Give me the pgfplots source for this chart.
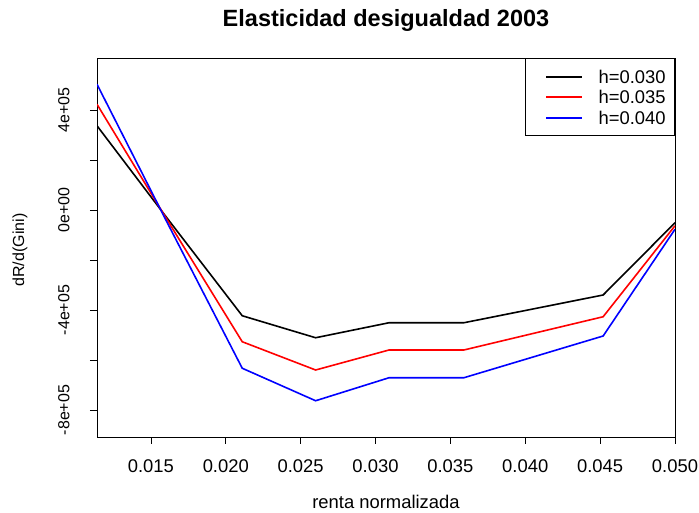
\documentclass[border=0pt]{standalone}
\usepackage{pgfplots}
\pgfplotsset{compat=1.18}
\usepackage{fontspec}
\setmainfont{Liberation Sans}
\begin{document}
\begin{tikzpicture}[font=\fontsize{18.4bp}{20bp}\selectfont]
\useasboundingbox (0,0) rectangle (699bp,513bp);
\begin{axis}[
  at={(97bp,76bp)}, anchor=south west,
  scale only axis, width=578bp, height=379bp,
  xmin=0.0114, xmax=0.050, ymin=-908000, ymax=608000,
  axis line style={line width=0.8bp},
  tick align=outside, xtick pos=bottom, ytick pos=left,
  tick style={black, line width=0.8bp},
  major tick length=7bp,
  xtick={0.015,0.020,0.025,0.030,0.035,0.040,0.045,0.050},
  xticklabels={0.015,0.020,0.025,0.030,0.035,0.040,0.045,0.050},
  ytick={-800000,-600000,-400000,-200000,0,200000,400000},
  yticklabels={-8e+05,,-4e+05,,0e+00,,4e+05},
  scaled ticks=false,
  /pgf/number format/assume math mode=true,
  xticklabel style={font=\fontsize{18.4bp}{20bp}\selectfont},
  xticklabel shift=12bp,
  yticklabel style={font=\fontsize{16bp}{18bp}\selectfont, rotate=90, anchor=south},
  yticklabel shift=17bp,
  legend style={at={(1,1)}, anchor=north east, draw=black, line width=0.8bp, font=\fontsize{18.4bp}{19.5bp}\selectfont, inner xsep=7bp, inner ysep=8bp, row sep=0bp, cells={anchor=west, text height=15bp, text depth=2bp}},
  legend image code/.code={\path (-13bp,0bp) (50bp,0bp); \fill[#1, draw=none] (0bp,-1bp) rectangle (36bp,1bp);},
  every axis plot/.append style={line width=1.6bp},
]
\addplot[black] coordinates {(0.0114,337000) (0.0160,-26000) (0.0211,-423000) (0.0260,-511000) (0.0309,-451000) (0.0359,-451000) (0.0452,-340000) (0.0500,-51000)};
\addplot[red] coordinates {(0.0114,423000) (0.0160,-31000) (0.0211,-527000) (0.0260,-640000) (0.0309,-560000) (0.0359,-560000) (0.0452,-427000) (0.0500,-63000)};
\addplot[blue] coordinates {(0.0114,503000) (0.0160,-40000) (0.0211,-633000) (0.0260,-763000) (0.0309,-671000) (0.0359,-671000) (0.0452,-504000) (0.0500,-77000)};
\legend{h=0.030,h=0.035,h=0.040}
\end{axis}
\node[font=\bfseries\fontsize{23.5bp}{26bp}\selectfont] at (386bp,493bp) {Elasticidad desigualdad 2003};
\node at (386bp,11bp) {renta normalizada};
\node[rotate=90, font=\fontsize{16bp}{18bp}\selectfont] at (20bp,263bp) {dR/d(Gini)};
\end{tikzpicture}
\end{document}
